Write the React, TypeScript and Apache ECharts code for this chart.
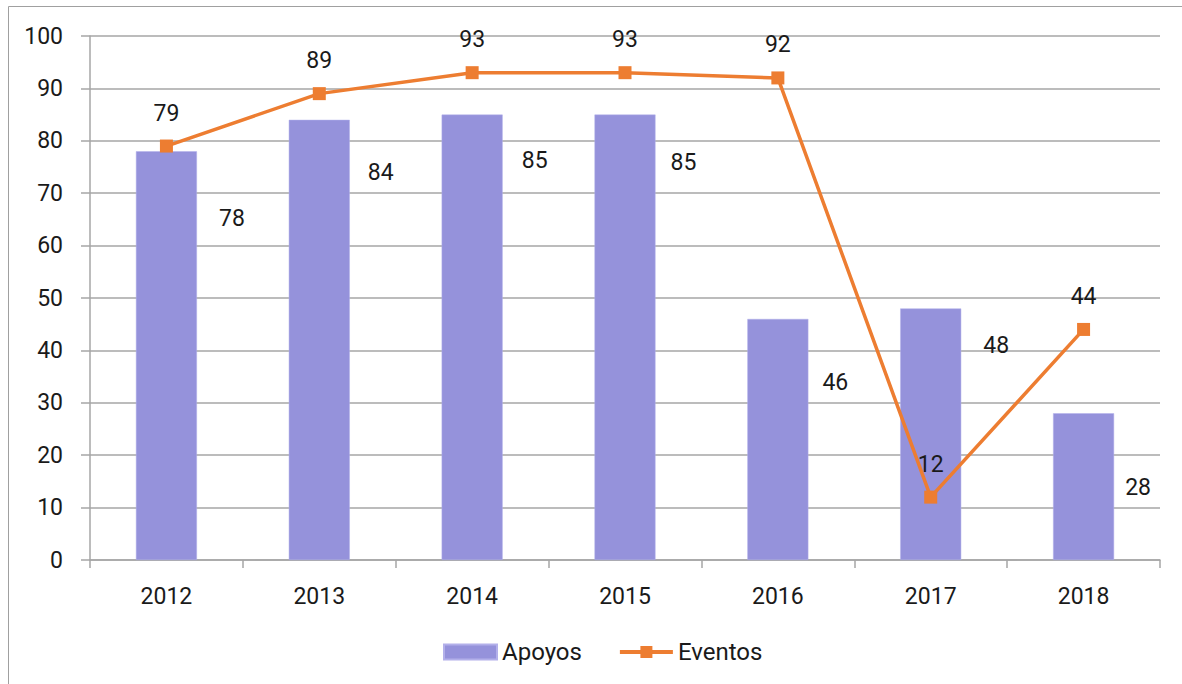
import React, { useEffect, useRef } from "react";
import * as echarts from "echarts";

const years = ["2012", "2013", "2014", "2015", "2016", "2017", "2018"];
const apoyos = [78, 84, 85, 85, 46, 48, 28];
const eventos = [79, 89, 93, 93, 92, 12, 44];
const yTicks = { min: 0, max: 100, interval: 10 };
// label placement (layout only), relative to each bar's top-left corner
const barLabelPos: [number, number][] = [
  [96, 67], [92, 53], [93, 46], [89, 48], [88, 64], [96, 37], [85, 74],
];

const FONT = "Roboto";
const FS = 23;
const TXT = "#1a1a1a";
const GRIDC = "#A6A6A6";
const ORANGE = "#ED7D31";

export default function App() {
  const ref = useRef<HTMLDivElement>(null);
  useEffect(() => {
    if (!ref.current) return;
    const chart = echarts.init(ref.current, undefined, { renderer: "svg" });
    chart.setOption({
      animation: false,
      backgroundColor: "#fff",
      textStyle: { fontFamily: FONT },
      graphic: [
        {
          type: "rect",
          shape: { x: 8.5, y: 6.5, width: 1200, height: 700 },
          style: { fill: "none", stroke: "#A0A0A0", lineWidth: 1 },
          silent: true,
        },
      ],
      grid: { left: 90, right: 22, top: 36, bottom: 124, containLabel: false },
      legend: {
        top: 635,
        left: 438,
        itemWidth: 53,
        itemHeight: 15,
        itemGap: 36,
        textStyle: { fontFamily: FONT, fontSize: 24, color: TXT },
        data: [
          { name: "Apoyos", icon: "rect" },
          { name: "Eventos", lineStyle: { width: 4, color: ORANGE } },
        ],
      },
      xAxis: {
        type: "category",
        data: years,
        boundaryGap: true,
        axisLine: { lineStyle: { color: GRIDC, width: 1.5 } },
        axisTick: { show: true, length: 8, lineStyle: { color: GRIDC, width: 1.5 } },
        axisLabel: { fontFamily: FONT, fontSize: FS, color: TXT, margin: 25 },
      },
      yAxis: {
        type: "value",
        min: yTicks.min,
        max: yTicks.max,
        interval: yTicks.interval,
        axisLine: { show: true, lineStyle: { color: GRIDC, width: 1.5 } },
        axisTick: { show: true, length: 9, lineStyle: { color: GRIDC, width: 1.5 } },
        axisLabel: { fontFamily: FONT, fontSize: FS, color: TXT, margin: 27 },
        splitLine: { show: true, lineStyle: { color: GRIDC, width: 1.5 } },
      },
      series: [
        {
          name: "Apoyos",
          type: "bar",
          barWidth: 61,
          itemStyle: { color: "#9592DB", borderColor: "#B3B0EA", borderWidth: 0.5 },
          data: apoyos.map((v, i) => ({
            value: v,
            label: {
              show: true,
              position: barLabelPos[i],
              align: "center",
              verticalAlign: "middle",
              fontFamily: FONT,
              fontSize: FS,
              color: TXT,
            },
          })),
          z: 2,
        },
        {
          name: "Eventos",
          type: "line",
          data: eventos,
          symbol: "rect",
          symbolSize: 13,
          itemStyle: { color: ORANGE },
          lineStyle: { color: ORANGE, width: 3.5 },
          label: {
            show: true,
            position: "top",
            distance: 15,
            fontFamily: FONT,
            fontSize: FS,
            color: TXT,
          },
          z: 3,
        },
      ],
    });
    return () => chart.dispose();
  }, []);
  return (
    <div
      ref={ref}
      style={{ position: "absolute", left: 0, top: 0, width: 1182, height: 684 }}
    />
  );
}
